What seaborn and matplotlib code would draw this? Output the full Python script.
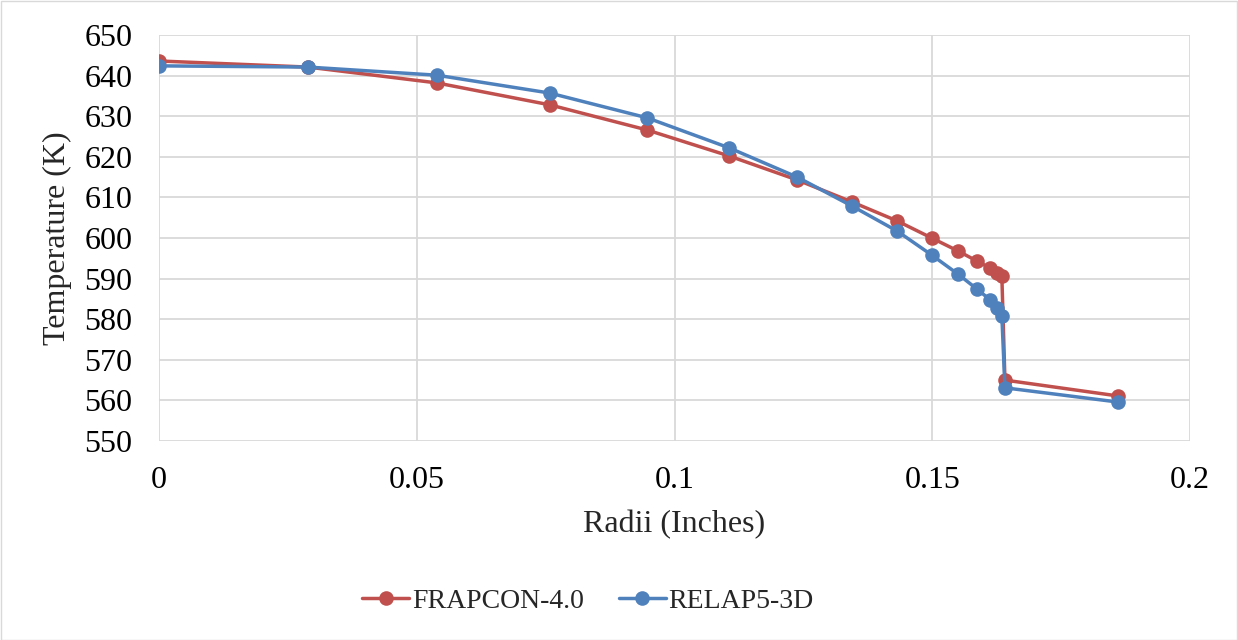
import matplotlib
matplotlib.use("Agg")
import matplotlib.pyplot as plt
import seaborn as sns
import pandas as pd
from matplotlib.patches import Rectangle

# Radial positions (inches) shared by both codes
radii = [0.0, 0.0289, 0.0539, 0.0758, 0.0947, 0.1106, 0.1238, 0.1344, 0.1432,
         0.1499, 0.1550, 0.1587, 0.1612, 0.1626, 0.1635, 0.1641, 0.1860]

frapcon_temp = [643.6, 642.1, 638.2, 632.8, 626.6, 620.2, 614.3, 608.9, 604.2,
                600.0, 596.8, 594.3, 592.6, 591.4, 590.6, 565.0, 561.1]

relap_temp = [642.4, 642.1, 640.1, 635.7, 629.6, 622.2, 615.0, 607.9, 601.7,
              595.8, 591.1, 587.4, 584.8, 582.8, 580.9, 563.1, 559.6]

series_names = ["FRAPCON-4.0", "RELAP5-3D"]
series_colors = ["#C0504D", "#4F81BD"]

x_ticks = [0, 0.05, 0.1, 0.15, 0.2]
x_tick_labels = ["0", "0.05", "0.1", "0.15", "0.2"]
y_ticks = list(range(550, 651, 10))

df = pd.concat([
    pd.DataFrame({"Radii": radii, "Temperature": frapcon_temp, "Code": series_names[0]}),
    pd.DataFrame({"Radii": radii, "Temperature": relap_temp, "Code": series_names[1]}),
])

sns.set_theme(style="white")
plt.rcParams["font.family"] = ["Liberation Serif", "DejaVu Serif"]

W, H = 1238, 640
fig = plt.figure(figsize=(W / 100, H / 100), dpi=100)
ax = fig.add_axes([159 / W, 1 - 441 / H, (1190 - 159) / W, (441 - 35) / H])

sns.lineplot(data=df, x="Radii", y="Temperature", hue="Code",
             palette=dict(zip(series_names, series_colors)),
             marker="o", markersize=10.5, markeredgewidth=0, linewidth=2.5,
             estimator=None, sort=False, ax=ax, legend=False, zorder=3)

ax.set_xlim(0, 0.2)
ax.set_ylim(550, 650)
ax.set_xticks(x_ticks)
ax.set_xticklabels(x_tick_labels)
ax.set_yticks(y_ticks)
ax.tick_params(axis="both", labelsize=23, length=0, colors="black")
ax.tick_params(axis="x", pad=18)
ax.tick_params(axis="y", pad=19)
ax.grid(True, color="#d9d9d9", linewidth=1.3, zorder=0)
ax.set_axisbelow(True)
for s in ax.spines.values():
    s.set_visible(False)

ax.set_xlabel("Radii (Inches)", fontsize=23, labelpad=11)
ax.set_ylabel("Temperature (K)", fontsize=23, labelpad=9)

handles = [plt.Line2D([], [], color=c, linewidth=2.5, marker="o", markersize=10.5,
                      markeredgewidth=0) for c in series_colors]
fig.legend(handles, series_names, loc="center", bbox_to_anchor=(588 / W, 1 - 601 / H),
           ncol=2, frameon=False, fontsize=20, handlelength=1.7,
           handletextpad=0.1, columnspacing=1.25)

fig.patches.append(Rectangle((0.5 / W, 0.5 / H), 1 - 1.5 / W, 1 - 1.5 / H,
                             transform=fig.transFigure, fill=False,
                             edgecolor="#d9d9d9", linewidth=1.0))

fig.savefig("out.png", dpi=100, facecolor="white")
